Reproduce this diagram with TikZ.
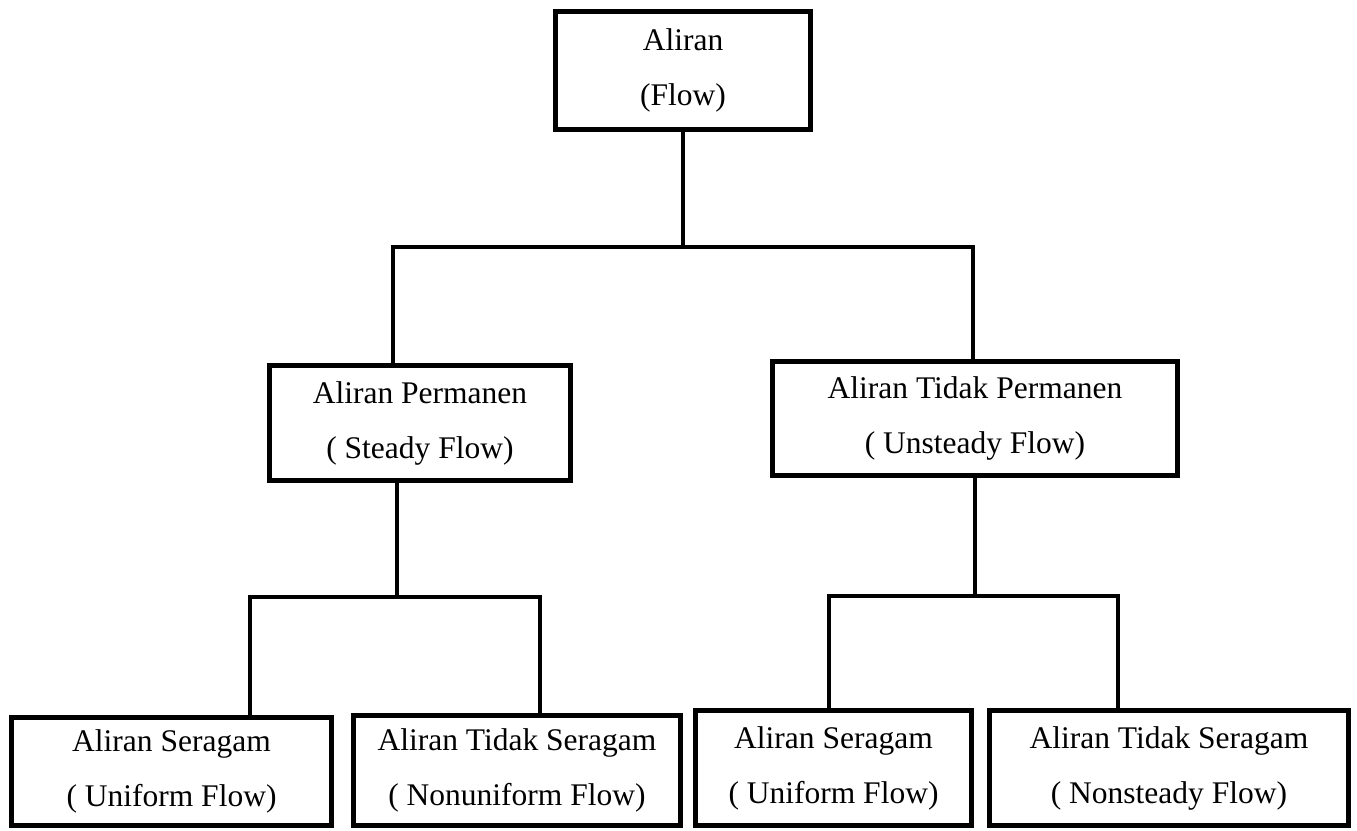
\documentclass[tikz,border=0pt]{standalone}
\usepackage{fontspec}
\setmainfont{Liberation Serif}
\begin{document}
\begin{tikzpicture}[x=1pt,y=-1pt,
  box/.style={draw=black, line width=4.7pt, fill=white, inner sep=0pt,
    align=center, font=\fontsize{31.5}{55}\selectfont,
    minimum width=#1},
  conn/.style={draw=black, line width=4pt, line join=miter}]
\useasboundingbox (0,0) rectangle (1357,830);
% nodes
\node[box=255.3pt, minimum height=118.3pt] (top) at (683,70.5) {Aliran\\(Flow)};
\node[box=301.3pt, minimum height=115.3pt] (ml) at (420,423) {Aliran Permanen\\( Steady Flow)};
\node[box=405.3pt, minimum height=114.3pt] (mr) at (975,418.5) {Aliran Tidak Permanen\\( Unsteady Flow)};
\node[box=320.3pt, minimum height=108.3pt] (b1) at (171.5,771.5) {Aliran Seragam\\( Uniform Flow)};
\node[box=327.3pt, minimum height=110.3pt] (b2) at (517,770.5) {Aliran Tidak Seragam\\( Nonuniform Flow)};
\node[box=276.3pt, minimum height=115.3pt] (b3) at (833.5,768) {Aliran Seragam\\( Uniform Flow)};
\node[box=359.3pt, minimum height=115.3pt] (b4) at (1169,768) {Aliran Tidak Seragam\\( Nonsteady Flow)};
% junction coordinates
\coordinate (j1) at (683,247);
\coordinate (l1) at (393,247);
\coordinate (r1) at (973,247);
\coordinate (j2) at (397,597);
\coordinate (l2) at (250,597);
\coordinate (r2) at (540,597);
\coordinate (j3) at (975,596);
\coordinate (l3) at (829,596);
\coordinate (r3) at (1118,596);
% connectors
\draw[conn] (top.south) -- (j1);
\draw[conn] (l1 |- ml.north) -- (l1) -- (r1) -- (r1 |- mr.north);
\draw[conn] (ml.south -| j2) -- (j2);
\draw[conn] (l2 |- b1.north) -- (l2) -- (r2) -- (r2 |- b2.north);
\draw[conn] (mr.south -| j3) -- (j3);
\draw[conn] (l3 |- b3.north) -- (l3) -- (r3) -- (r3 |- b4.north);
\end{tikzpicture}
\end{document}
